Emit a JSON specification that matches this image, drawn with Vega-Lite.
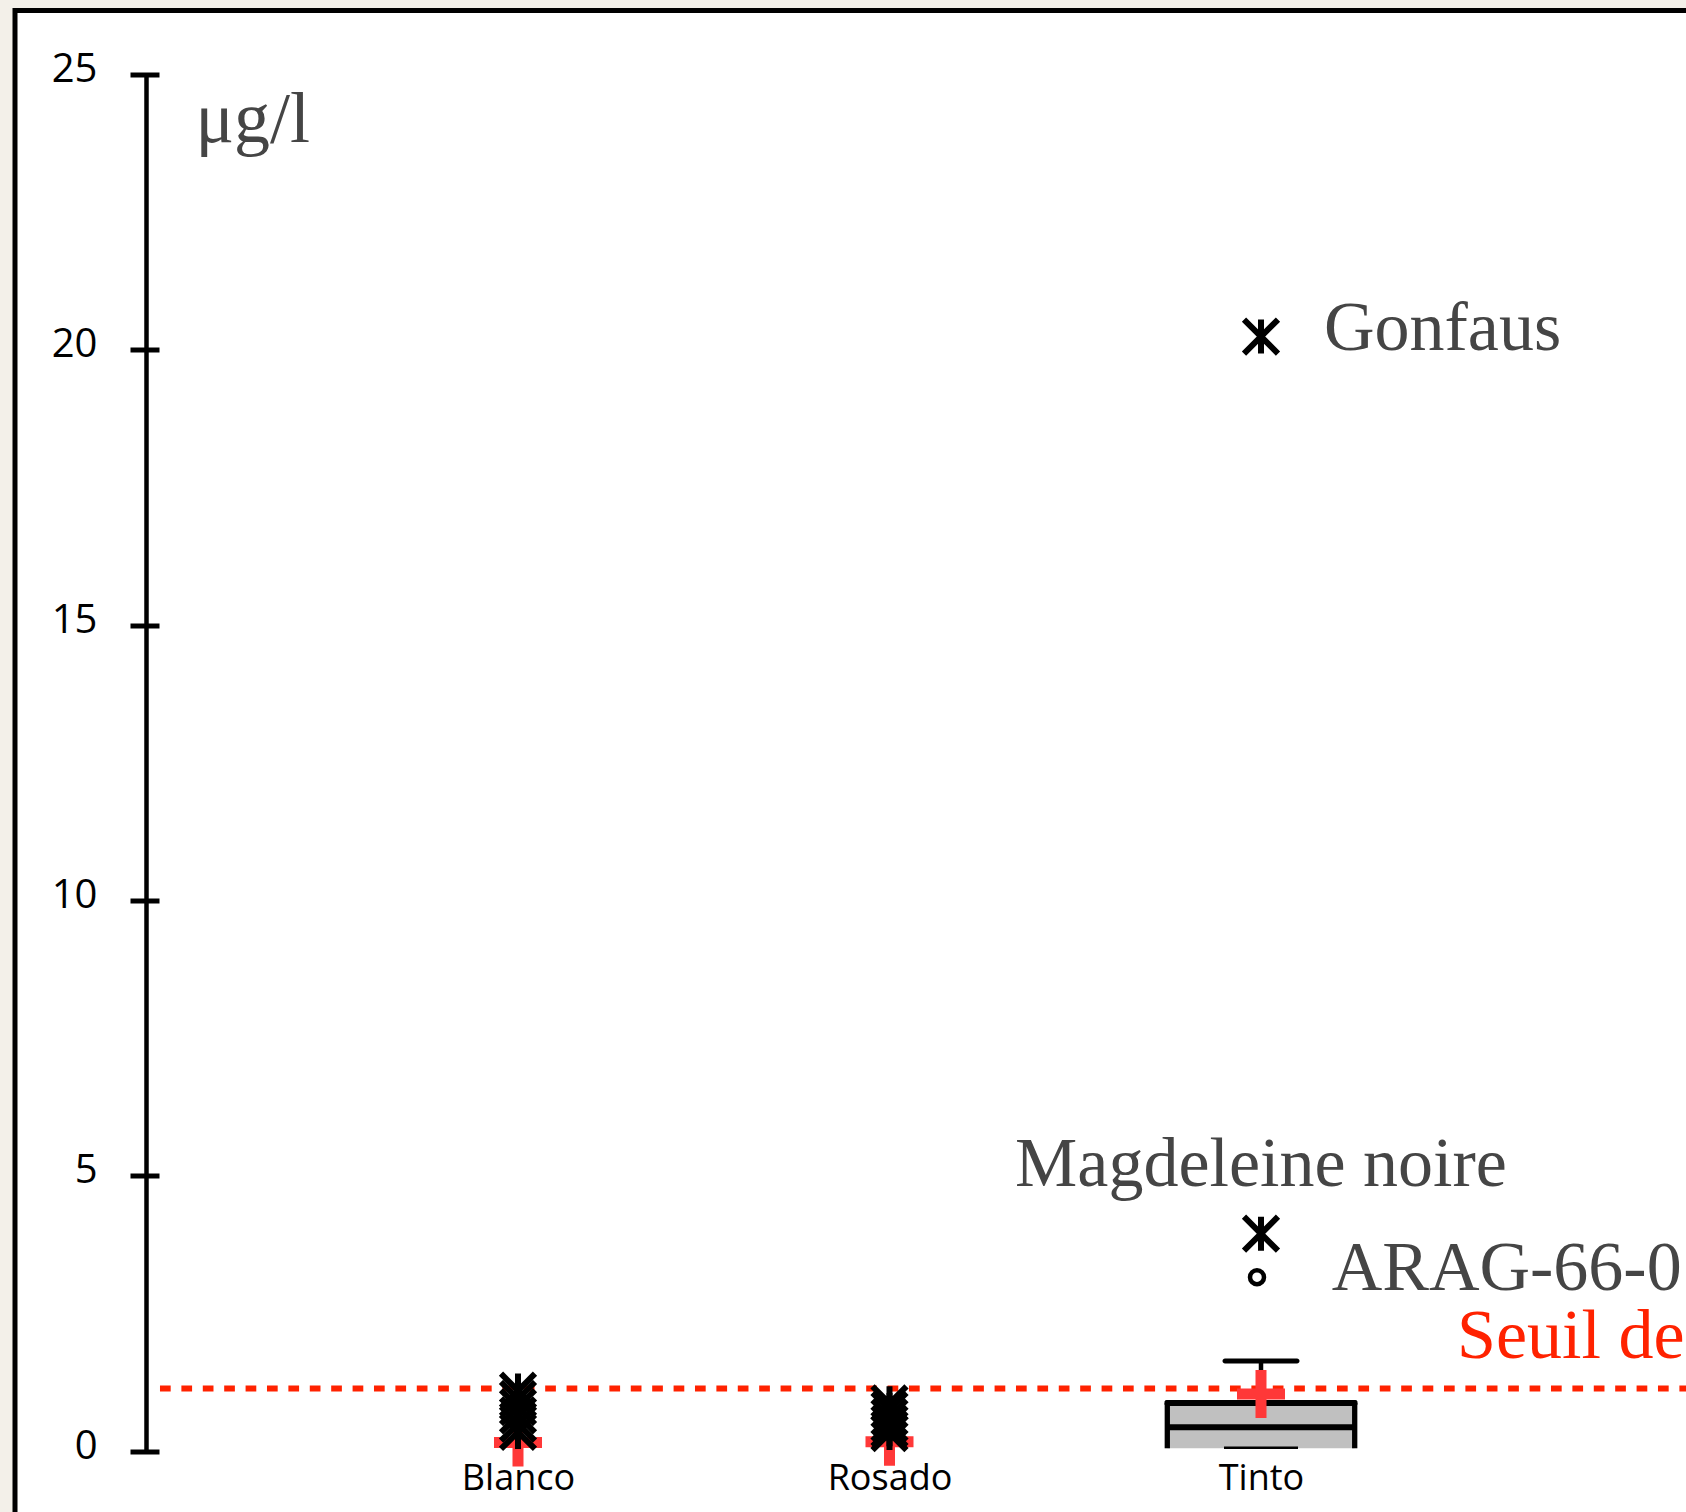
{
  "$schema": "https://vega.github.io/schema/vega-lite/v6.json",
  "width": 1681,
  "height": 1511.5,
  "autosize": {"type": "none"},
  "padding": {"left": 15, "top": 10.5, "right": -10, "bottom": -10},
  "background": "#f3f0e9",
  "config": {"view": {"stroke": "#000000", "strokeWidth": 5, "fill": "#ffffff"}},
  "encoding": {
    "x": {
      "field": "x", "type": "quantitative",
      "scale": {"domain": [-0.35397, 4.170929], "nice": false, "zero": false},
      "axis": {
        "orient": "bottom", "offset": -71, "values": [1, 2, 3],
        "labelExpr": "datum.value == 1 ? 'Blanco' : datum.value == 2 ? 'Rosado' : 'Tinto'",
        "domain": false, "ticks": false, "tickSize": 0, "grid": false,
        "labelPadding": 38, "labelBaseline": "alphabetic", "labelFont": "Open Sans",
        "labelFontSize": 36, "labelColor": "#000000", "title": null,
        "labelFlush": false, "labelOverlap": false
      }
    },
    "y": {
      "field": "y", "type": "quantitative",
      "scale": {"domain": [-1.2856, 26.161], "nice": false, "zero": false},
      "axis": {
        "orient": "left", "offset": -144, "values": [0, 5, 10, 15, 20, 25],
        "domain": false, "grid": false, "tickSize": 29, "tickWidth": 5,
        "tickColor": "#000000", "labelFont": "Open Sans", "labelFontSize": 40,
        "labelColor": "#000000", "labelPadding": 33, "labelOffset": -5,
        "labelFlush": false, "labelOverlap": false,
        "title": "μg/l", "titleX": 36, "titleY": 131, "titleAngle": 0,
        "titleAlign": "left", "titleBaseline": "alphabetic",
        "titleFont": "Liberation Serif", "titleFontSize": 72,
        "titleFontWeight": "normal", "titleColor": "#454545"
      }
    }
  },
  "layer": [
    {
      "data": {"values": [{"x": 0, "y": 0, "y2": 25}]},
      "mark": {"type": "rule", "color": "#000000", "strokeWidth": 4.5, "strokeCap": "butt"},
      "encoding": {"y2": {"field": "y2"}}
    },
    {
      "data": {"values": [{"x": 3, "q1": 0.053, "med": 0.435, "q3": 0.877, "hi": 1.64, "lo": 0.064}]},
      "layer": [
        {
          "mark": {"type": "rule", "color": "#c0c0c0", "strokeWidth": 187, "strokeCap": "butt"},
          "encoding": {"y": {"field": "q1", "type": "quantitative"}, "y2": {"field": "q3"}}
        },
        {
          "mark": {"type": "rule", "color": "#000000", "strokeWidth": 5.3, "strokeCap": "butt", "xOffset": -93.7},
          "encoding": {"y": {"field": "q1", "type": "quantitative"}, "y2": {"field": "q3"}}
        },
        {
          "mark": {"type": "rule", "color": "#000000", "strokeWidth": 5.3, "strokeCap": "butt", "xOffset": 93.7},
          "encoding": {"y": {"field": "q1", "type": "quantitative"}, "y2": {"field": "q3"}}
        },
        {
          "mark": {"type": "rule", "color": "#000000", "strokeWidth": 4.5, "strokeCap": "butt"},
          "encoding": {"y": {"field": "q3", "type": "quantitative"}, "y2": {"field": "hi"}}
        },
        {
          "mark": {"type": "tick", "orient": "horizontal", "color": "#000000", "size": 193, "thickness": 6, "opacity": 1, "cornerRadius": 2},
          "encoding": {"y": {"field": "q3", "type": "quantitative"}}
        },
        {
          "mark": {"type": "tick", "orient": "horizontal", "color": "#000000", "size": 188, "thickness": 6, "opacity": 1},
          "encoding": {"y": {"field": "med", "type": "quantitative"}}
        },
        {
          "mark": {"type": "tick", "orient": "horizontal", "color": "#000000", "size": 77, "thickness": 5, "opacity": 1, "cornerRadius": 2.5},
          "encoding": {"y": {"field": "hi", "type": "quantitative"}}
        },
        {
          "mark": {"type": "tick", "orient": "horizontal", "color": "#000000", "size": 74, "thickness": 2.5, "opacity": 1},
          "encoding": {"y": {"field": "lo", "type": "quantitative"}}
        }
      ]
    },
    {
      "data": {"values": [{"x": 0.0363, "x2": 4.4, "y": 1.14}]},
      "mark": {"type": "rule", "color": "#ff2200", "strokeWidth": 6, "strokeDash": [10.7, 10.7], "strokeCap": "butt"},
      "encoding": {"x2": {"field": "x2"}}
    },
    {
      "data": {"values": [
        {"cat": "Blanco", "x": 1, "y": 0.16},
        {"cat": "Rosado", "x": 2, "y": 0.17},
        {"cat": "Tinto", "x": 3, "y": 1.04}
      ]},
      "mark": {"type": "point", "shape": "M-1,0L1,0M0,-1L0,1", "filled": false, "stroke": "#ff3838", "strokeWidth": 11, "strokeCap": "butt", "size": 2304, "opacity": 1}
    },
    {
      "data": {"values": [
        {"cat": "Blanco", "x": 1, "y": 1.1},
        {"cat": "Blanco", "x": 1, "y": 0.95},
        {"cat": "Blanco", "x": 1, "y": 0.8},
        {"cat": "Blanco", "x": 1, "y": 0.65},
        {"cat": "Blanco", "x": 1, "y": 0.5},
        {"cat": "Blanco", "x": 1, "y": 0.35},
        {"cat": "Rosado", "x": 2, "y": 0.87},
        {"cat": "Rosado", "x": 2, "y": 0.75},
        {"cat": "Rosado", "x": 2, "y": 0.62},
        {"cat": "Rosado", "x": 2, "y": 0.5},
        {"cat": "Rosado", "x": 2, "y": 0.4},
        {"cat": "Rosado", "x": 2, "y": 0.33},
        {"cat": "Tinto", "x": 3, "y": 20.24},
        {"cat": "Tinto", "x": 3, "y": 3.95}
      ]},
      "mark": {"type": "point", "shape": "M0,-1L0,1M-1,-1L1,1M-1,1L1,-1", "filled": false, "stroke": "#000000", "strokeWidth": 6, "strokeCap": "butt", "size": 1156, "opacity": 1}
    },
    {
      "data": {"values": [{"cat": "Tinto", "x": 3, "y": 3.16}]},
      "mark": {"type": "point", "shape": "circle", "filled": false, "stroke": "#000000", "strokeWidth": 4.5, "size": 196, "opacity": 1, "xOffset": -4}
    },
    {
      "data": {"values": [{"label": "Gonfaus", "x": 3, "y": 20.24}]},
      "mark": {"type": "text", "align": "left", "baseline": "alphabetic", "dx": 63, "dy": 13.7, "font": "Liberation Serif", "fontSize": 70, "color": "#454545"},
      "encoding": {"text": {"field": "label"}}
    },
    {
      "data": {"values": [{"label": "Magdeleine noire", "x": 3, "y": 3.95}]},
      "mark": {"type": "text", "align": "center", "baseline": "alphabetic", "dy": -47.5, "font": "Liberation Serif", "fontSize": 70, "color": "#454545"},
      "encoding": {"text": {"field": "label"}}
    },
    {
      "data": {"values": [{"label": "ARAG-66-01", "x": 3, "y": 3.16}]},
      "mark": {"type": "text", "align": "left", "baseline": "alphabetic", "dx": 70.7, "dy": 12.4, "font": "Liberation Serif", "fontSize": 70, "color": "#454545"},
      "encoding": {"text": {"field": "label"}}
    },
    {
      "data": {"values": [{"label": "Seuil de", "x": 3.5276, "y": 1.14}]},
      "mark": {"type": "text", "align": "left", "baseline": "alphabetic", "dy": -30.6, "font": "Liberation Serif", "fontSize": 70, "color": "#ff2200"},
      "encoding": {"text": {"field": "label"}}
    }
  ]
}
